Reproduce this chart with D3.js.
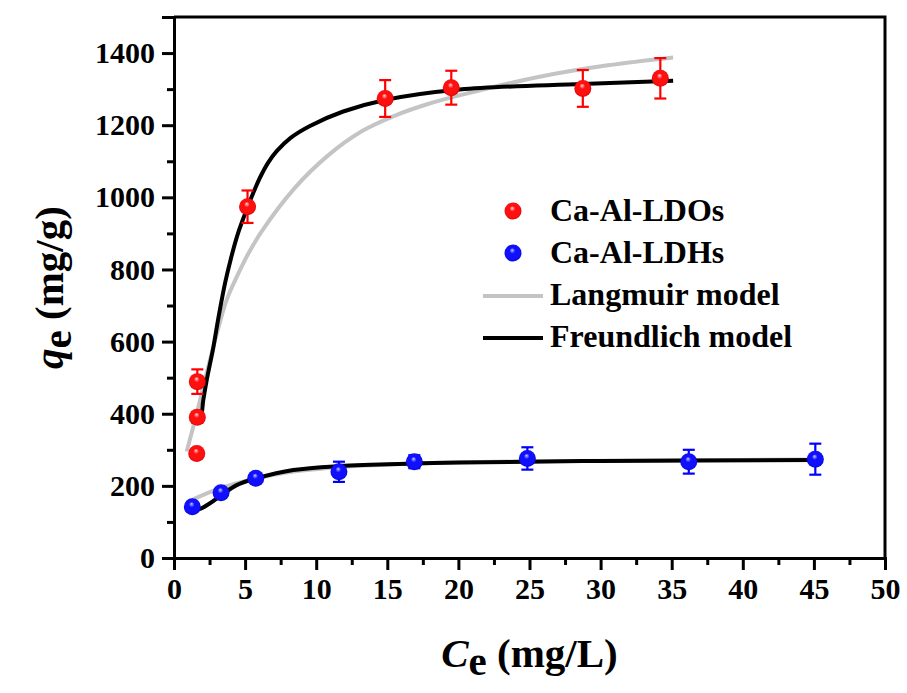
<!DOCTYPE html>
<html><head><meta charset="utf-8">
<script src="https://cdn.jsdelivr.net/npm/d3@7"></script>
<style>
html,body{margin:0;padding:0;background:#fff;}
svg{display:block;font-family:"Liberation Serif","Times New Roman",serif;font-weight:bold;}
</style></head>
<body>
<svg id="chart" width="907" height="693"></svg>
<script>
// ---- data ----
const ldoCe  = [1.60, 1.64, 1.64, 5.17, 14.85, 19.5, 28.75, 34.2];
const ldoQe  = [290, 390, 489, 974, 1274, 1304, 1302, 1330];
const ldoErr = [0, 15, 34, 45, 51, 47, 51, 56];

const ldhCe  = [1.29, 3.31, 5.75, 11.6, 16.9, 24.85, 36.2, 45.1];
const ldhQe  = [142, 181, 221, 239, 267, 276, 267, 274];
const ldhErr = [0, 10, 10, 28, 18, 31, 33, 43];

// model curves
const langLdoCe = [0.89, 1.6, 2.53, 3.7, 4.48, 5.2, 6.12, 8.47, 10.8, 13.2, 15.5, 17.8, 20.2, 25.8, 30.5, 35.1];
const langLdoQe = [295, 401, 549, 715, 785, 842, 903, 1025, 1115, 1183, 1226, 1258, 1284, 1335, 1366, 1388];
const freuLdoCe = [1.36, 1.83, 2.06, 2.30, 2.77, 3.12, 3.59, 4.0, 4.5, 5.15, 5.6, 6.05, 6.6, 7.22, 8.2, 9.56, 11.9, 14.84, 20.1, 28.7, 35.1];
const freuLdoQe = [378, 387, 438, 493, 585, 665, 762, 830, 900, 970, 1015, 1055, 1095, 1128, 1165, 1198, 1238, 1270, 1299, 1314, 1323];

const langLdhCe = [1.0, 2.06, 3.23, 4.41, 5.58, 8.4, 11.7, 17, 25, 36, 45.3];
const langLdhQe = [156, 175, 193, 207, 219, 240, 252, 262, 268, 271, 273];
const freuLdhCe = [1.36, 1.71, 2.53, 3.35, 4.41, 5.82, 8.39, 11.67, 16.83, 20.1, 30, 45.2];
const freuLdhQe = [142, 135, 152, 175, 202, 221, 244, 255, 262, 265, 269, 272];

const xTicks = [0, 5, 10, 15, 20, 25, 30, 35, 40, 45, 50];
const yTicks = [0, 200, 400, 600, 800, 1000, 1200, 1400];
const legendLabels = ["Ca-Al-LDOs", "Ca-Al-LDHs", "Langmuir model", "Freundlich model"];

// ---- layout ----
const svg = d3.select("#chart");
const L = 174, R = 885, T = 17, B = 558;
const x = d3.scaleLinear().domain([0, 50]).range([L, R]);
const y = d3.scaleLinear().domain([0, 1500]).range([B, T]);

// gradients
const defs = svg.append("defs");
function sphere(id, light, mid, dark) {
  const g = defs.append("radialGradient").attr("id", id)
    .attr("cx", "50%").attr("cy", "50%").attr("r", "55%").attr("fx", "45%").attr("fy", "32%");
  g.append("stop").attr("offset", "0%").attr("stop-color", light);
  g.append("stop").attr("offset", "30%").attr("stop-color", mid);
  g.append("stop").attr("offset", "75%").attr("stop-color", mid);
  g.append("stop").attr("offset", "100%").attr("stop-color", dark);
}
sphere("gRed", "#ffd8d8", "#ff1010", "#d00000");
sphere("gBlue", "#c8c8ff", "#1010ff", "#0000c8");

// frame
svg.append("path")
  .attr("d", `M${L},${T}H${R}V${B}`)
  .attr("fill", "none").attr("stroke", "#000").attr("stroke-width", 3);

// axes
const xAxis = d3.axisBottom(x).tickValues(xTicks).tickSize(12).tickPadding(8).tickFormat(d3.format("d"));
const yAxis = d3.axisLeft(y).tickValues(yTicks).tickSize(12).tickPadding(7).tickFormat(d3.format("d"));
const xMinor = d3.axisBottom(x).tickValues(d3.range(2.5, 50, 5)).tickSize(7).tickFormat("");
const yMinor = d3.axisLeft(y).tickValues(d3.range(100, 1500, 200)).tickSize(7).tickFormat("");

function styleAxis(g) {
  g.select(".domain").attr("stroke-width", 3);
  g.selectAll(".tick line").attr("stroke-width", 3);
  g.selectAll(".tick text").attr("font-size", 30).attr("font-weight", "bold")
    .attr("font-family", '"Liberation Serif","Times New Roman",serif').attr("fill", "#000");
}
svg.append("g").attr("transform", `translate(0,${B})`).call(xAxis).call(styleAxis);
svg.append("g").attr("transform", `translate(0,${B})`).call(xMinor).call(styleAxis).select(".domain").remove();
svg.append("g").attr("transform", `translate(${L},0)`).call(yAxis).call(styleAxis);
svg.append("g").attr("transform", `translate(${L},0)`).call(yMinor).call(styleAxis).select(".domain").remove();

// curves
const line = d3.line().x(d => x(d[0])).y(d => y(d[1])).curve(d3.curveCatmullRom.alpha(0.5));
function drawCurve(cs, qs, color) {
  svg.append("path").datum(d3.zip(cs, qs)).attr("d", line)
    .attr("fill", "none").attr("stroke", color).attr("stroke-width", 4)
    .attr("stroke-linejoin", "round").attr("stroke-linecap", "butt");
}
drawCurve(langLdoCe, langLdoQe, "#c4c4c4");
drawCurve(langLdhCe, langLdhQe, "#c4c4c4");
drawCurve(freuLdoCe, freuLdoQe, "#000");
drawCurve(freuLdhCe, freuLdhQe, "#000");

// points with error bars
function drawPoints(cs, qs, es, color, grad) {
  const data = d3.zip(cs, qs, es);
  const eb = svg.append("g").attr("stroke", color).attr("stroke-width", 2.2);
  data.filter(d => d[2] > 0).forEach(d => {
    const cx = x(d[0]), y1 = y(d[1] + d[2]), y2 = y(d[1] - d[2]);
    eb.append("line").attr("x1", cx).attr("x2", cx).attr("y1", y1).attr("y2", y2);
    eb.append("line").attr("x1", cx - 6).attr("x2", cx + 6).attr("y1", y1).attr("y2", y1);
    eb.append("line").attr("x1", cx - 6).attr("x2", cx + 6).attr("y1", y2).attr("y2", y2);
  });
  svg.append("g").selectAll("circle").data(data).join("circle")
    .attr("cx", d => x(d[0])).attr("cy", d => y(d[1])).attr("r", 8.5)
    .attr("fill", `url(#${grad})`);
}
drawPoints(ldoCe, ldoQe, ldoErr, "#ff0000", "gRed");
drawPoints(ldhCe, ldhQe, ldhErr, "#0000ff", "gBlue");

// legend
const lg = svg.append("g");
const lx = 513, tx = 550, ly0 = 211, dy = 42;
lg.append("circle").attr("cx", lx).attr("cy", ly0).attr("r", 8.5).attr("fill", "url(#gRed)");
lg.append("circle").attr("cx", lx).attr("cy", ly0 + dy).attr("r", 8.5).attr("fill", "url(#gBlue)");
lg.append("line").attr("x1", 483).attr("x2", 543).attr("y1", ly0 + 2 * dy + 1).attr("y2", ly0 + 2 * dy + 1)
  .attr("stroke", "#c4c4c4").attr("stroke-width", 4);
lg.append("line").attr("x1", 483).attr("x2", 543).attr("y1", ly0 + 3 * dy + 1).attr("y2", ly0 + 3 * dy + 1)
  .attr("stroke", "#000").attr("stroke-width", 4);
legendLabels.forEach((t, i) => {
  lg.append("text").attr("x", tx).attr("y", ly0 + 10 + i * dy).attr("font-size", 32).text(t);
});

// axis titles
const xt = svg.append("text").attr("x", (L + R) / 2).attr("y", 667).attr("text-anchor", "middle").attr("font-size", 41);
xt.append("tspan").attr("font-style", "italic").text("C");
xt.append("tspan").attr("dy", 8).text("e");
xt.append("tspan").attr("dy", -8).text(" (mg/L)");

const yt = svg.append("text").attr("transform", `translate(63,${(T + B) / 2}) rotate(-90)`)
  .attr("text-anchor", "middle").attr("font-size", 41);
yt.append("tspan").attr("font-style", "italic").text("q");
yt.append("tspan").attr("dy", 8).text("e");
yt.append("tspan").attr("dy", -8).text(" (mg/g)");
</script>
</body></html>
